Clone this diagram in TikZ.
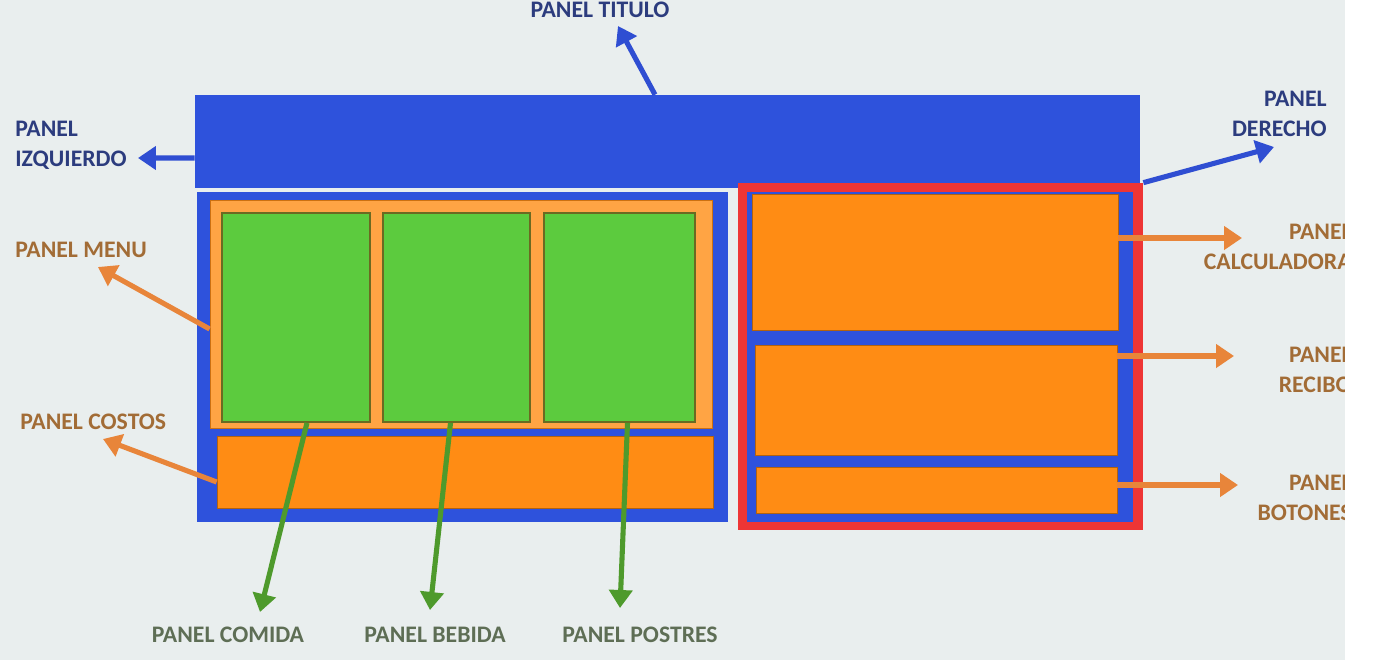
\documentclass[tikz,border=0pt]{standalone}
\usepackage{fontspec}
\setmainfont{Carlito}
\usetikzlibrary{arrows.meta,positioning,fit}
\definecolor{fondo}{HTML}{E9EEEE}
\definecolor{azul}{HTML}{2E52DC}
\definecolor{rojo}{HTML}{EE3535}
\definecolor{naranja}{HTML}{FF8C14}
\definecolor{naranjac}{HTML}{FFA444}
\definecolor{verde}{HTML}{5CCB3E}
\definecolor{oliva}{HTML}{6B6A22}
\definecolor{flechan}{HTML}{E8853A}
\definecolor{flechaa}{HTML}{2F4ED2}
\definecolor{flechav}{HTML}{4E9A2C}
\definecolor{txtazul}{HTML}{2C3C7E}
\definecolor{txtnar}{HTML}{A26C36}
\definecolor{txtverde}{HTML}{5E6E55}

\begin{document}
\begin{tikzpicture}[x=0.02cm,y=-0.02cm,
  caja/.style={inner sep=0pt, fill=#1},
  panel/.style={font=\fontsize{13.5}{17}\selectfont\bfseries, inner sep=0pt},
  flecha/.style={line width=2.9pt, #1, -{Triangle[width=0.46cm,length=0.36cm]}}]
  \useasboundingbox (0,0) rectangle (1389,660);
  \fill[fondo] (0,0) rectangle (1345,660);

  % panel titulo
  \node[caja=azul, fit={(195,95) (1140,188)}] (titulo) {};

  % lado izquierdo
  \node[caja=azul, fit={(197,192) (728,522)}] (izq) {};
  \node[caja=naranjac, draw=naranja!80!black, thin, fit={(210,200) (712,428)}] (menu) {};
  \foreach \n/\xa/\xb in {comida/222/370, bebida/383/530, postres/544/695}
    \node[caja=verde, draw=oliva, line width=1pt, fit={(\xa,213) (\xb,422)}] (g\n) {};
  \node[caja=naranja, draw=naranja!70!black, thin, fit={(217,436) (713,508)}] (costos) {};

  % lado derecho
  \node[caja=rojo, fit={(738,183) (1143,530)}] (derecho) {};
  \node[caja=azul, fit={(747,192) (1133,522)}] {};
  \node[caja=naranja, draw=naranja!70!black, thin, fit={(752,194) (1118,330)}] (calc) {};
  \node[caja=naranja, draw=naranja!70!black, thin, fit={(755,345) (1117,455)}] (recibo) {};
  \node[caja=naranja, draw=naranja!70!black, thin, fit={(756,467) (1117,513)}] (botones) {};

  % etiquetas
  \node[panel, txtazul] (ltitulo) at (600,10) {PANEL TITULO};
  \node[panel, txtazul, align=left, anchor=west] (lizq) at (15,145) {PANEL\\IZQUIERDO};
  \node[panel, txtazul, align=right, anchor=east] (lder) at (1327,114) {PANEL\\DERECHO};
  \node[panel, txtnar, anchor=west] (lmenu) at (15,250) {PANEL MENU};
  \node[panel, txtnar, anchor=west] (lcostos) at (20,422) {PANEL COSTOS};
  \node[panel, txtnar, align=right, anchor=east] (lcalc) at (1352,247) {PANEL\\CALCULADORA};
  \node[panel, txtnar, align=right, anchor=east] (lrecibo) at (1352,370) {PANEL\\RECIBO};
  \node[panel, txtnar, align=right, anchor=east] (lbotones) at (1352,498) {PANEL\\BOTONES};

  \coordinate (ptitulo) at (618,26);
  \coordinate (pizq) at (138,158);
  \coordinate (pder) at (1274,147);
  \coordinate (pmenu) at (98,267);
  \coordinate (pcostos) at (103,439);
  \coordinate (pcalc) at (1242,238);
  \coordinate (precibo) at (1234,356);
  \coordinate (pbotones) at (1238,485);

  % flechas
  \draw[flecha=flechaa] ([xshift=-0.25cm]titulo.north) -- (ptitulo);
  \draw[flecha=flechaa] ([yshift=-0.33cm]titulo.west) -- (pizq);
  \draw[flecha=flechaa] (derecho.north east) -- (pder);
  \draw[flecha=flechan] ([yshift=-0.3cm]menu.west) -- (pmenu);
  \draw[flecha=flechan] ([yshift=-0.2cm]costos.west) -- (pcostos);
  \draw[flecha=flechan] (calc.east |- pcalc) -- (pcalc);
  \draw[flecha=flechan] (recibo.east |- precibo) -- (precibo);
  \draw[flecha=flechan] (botones.east |- pbotones) -- (pbotones);

  \foreach \n/\xt/\yt/\dx in {comida/260/612/11, bebida/430/610/-6, postres/620/608/8} {
    \coordinate (p\n) at (\xt,\yt);
    \draw[flecha=flechav] ([xshift=\dx*0.02cm]g\n.south) -- (p\n);
  }
  \node[panel, txtverde] (lcomida) at (228,635) {PANEL COMIDA};
  \node[panel, txtverde] (lbebida) at (435,635) {PANEL BEBIDA};
  \node[panel, txtverde] (lpostres) at (640,635) {PANEL POSTRES};

  % borde derecho de la pantalla
  \fill[white] (1345,0) rectangle (1389,660);
\end{tikzpicture}
\end{document}
